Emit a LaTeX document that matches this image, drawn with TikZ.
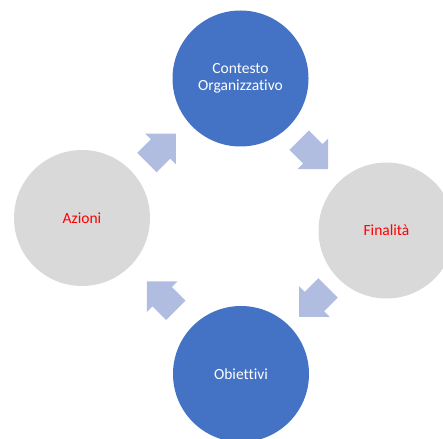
\documentclass[tikz,border=0pt]{standalone}
\usepackage{fontspec}
\setmainfont{Carlito}[Ligatures=NoCommon]
\usepackage{tkz-euclide}
\usetikzlibrary{shapes.arrows,calc}
\definecolor{bluestep}{HTML}{4472C4}
\definecolor{greystep}{HTML}{D9D9D9}
\definecolor{arrowblue}{HTML}{B0BDE0}

\begin{document}
\begin{tikzpicture}[x=1pt,y=-1pt,
	stage/.style={circle,minimum size=136pt,inner sep=0pt,align=center,
		font=\fontsize{15.5}{17}\selectfont},
	bluestage/.style={stage,fill=bluestep,text=white},
	greystage/.style={stage,fill=greystep,text=red},
	cyclearrow/.style={single arrow,fill=arrowblue,inner sep=0pt,anchor=tail,
		text height=13.5pt,text depth=13.5pt,text width=0pt,
		minimum height=41pt,single arrow head extend=8pt}]
	\useasboundingbox (0,0) rectangle (443,438);
		\tkzDefPoints{240.5/78.5/C,386.5/230.5/F,241/374/O,82/218/A}
	%	\tkzDrawPoints[color=black,size=2pt](C,F,O,A)
		\node[bluestage] (contesto) at (C) {Contesto\\Organizzativo};
		\node[greystage] (finalita) at (F) {Finalità};
		\node[bluestage] (obiettivi) at (O) {Obiettivi};
		\node[greystage] (azioni) at (A) {Azioni};
	% arrows halfway between the circles, tail half a length back
		\tkzDefMidPoint(A,C) \tkzGetPoint{AC}
		\tkzDefMidPoint(C,F) \tkzGetPoint{CF}
		\tkzDefMidPoint(F,O) \tkzGetPoint{FO}
		\tkzDefMidPoint(O,A) \tkzGetPoint{OA}
		\node[cyclearrow,rotate=45] (ac) at ($(AC)+(-14.5,14.5)$) {};
		\node[cyclearrow,rotate=-45] (cf) at ($(CF)+(-14.5,-14.5)$) {};
		\node[cyclearrow,rotate=-135] (fo) at ($(FO)+(14.5,-14.5)$) {};
		\node[cyclearrow,rotate=135] (oa) at ($(OA)+(14.5,14.5)$) {};
	\end{tikzpicture}
\end{document}
